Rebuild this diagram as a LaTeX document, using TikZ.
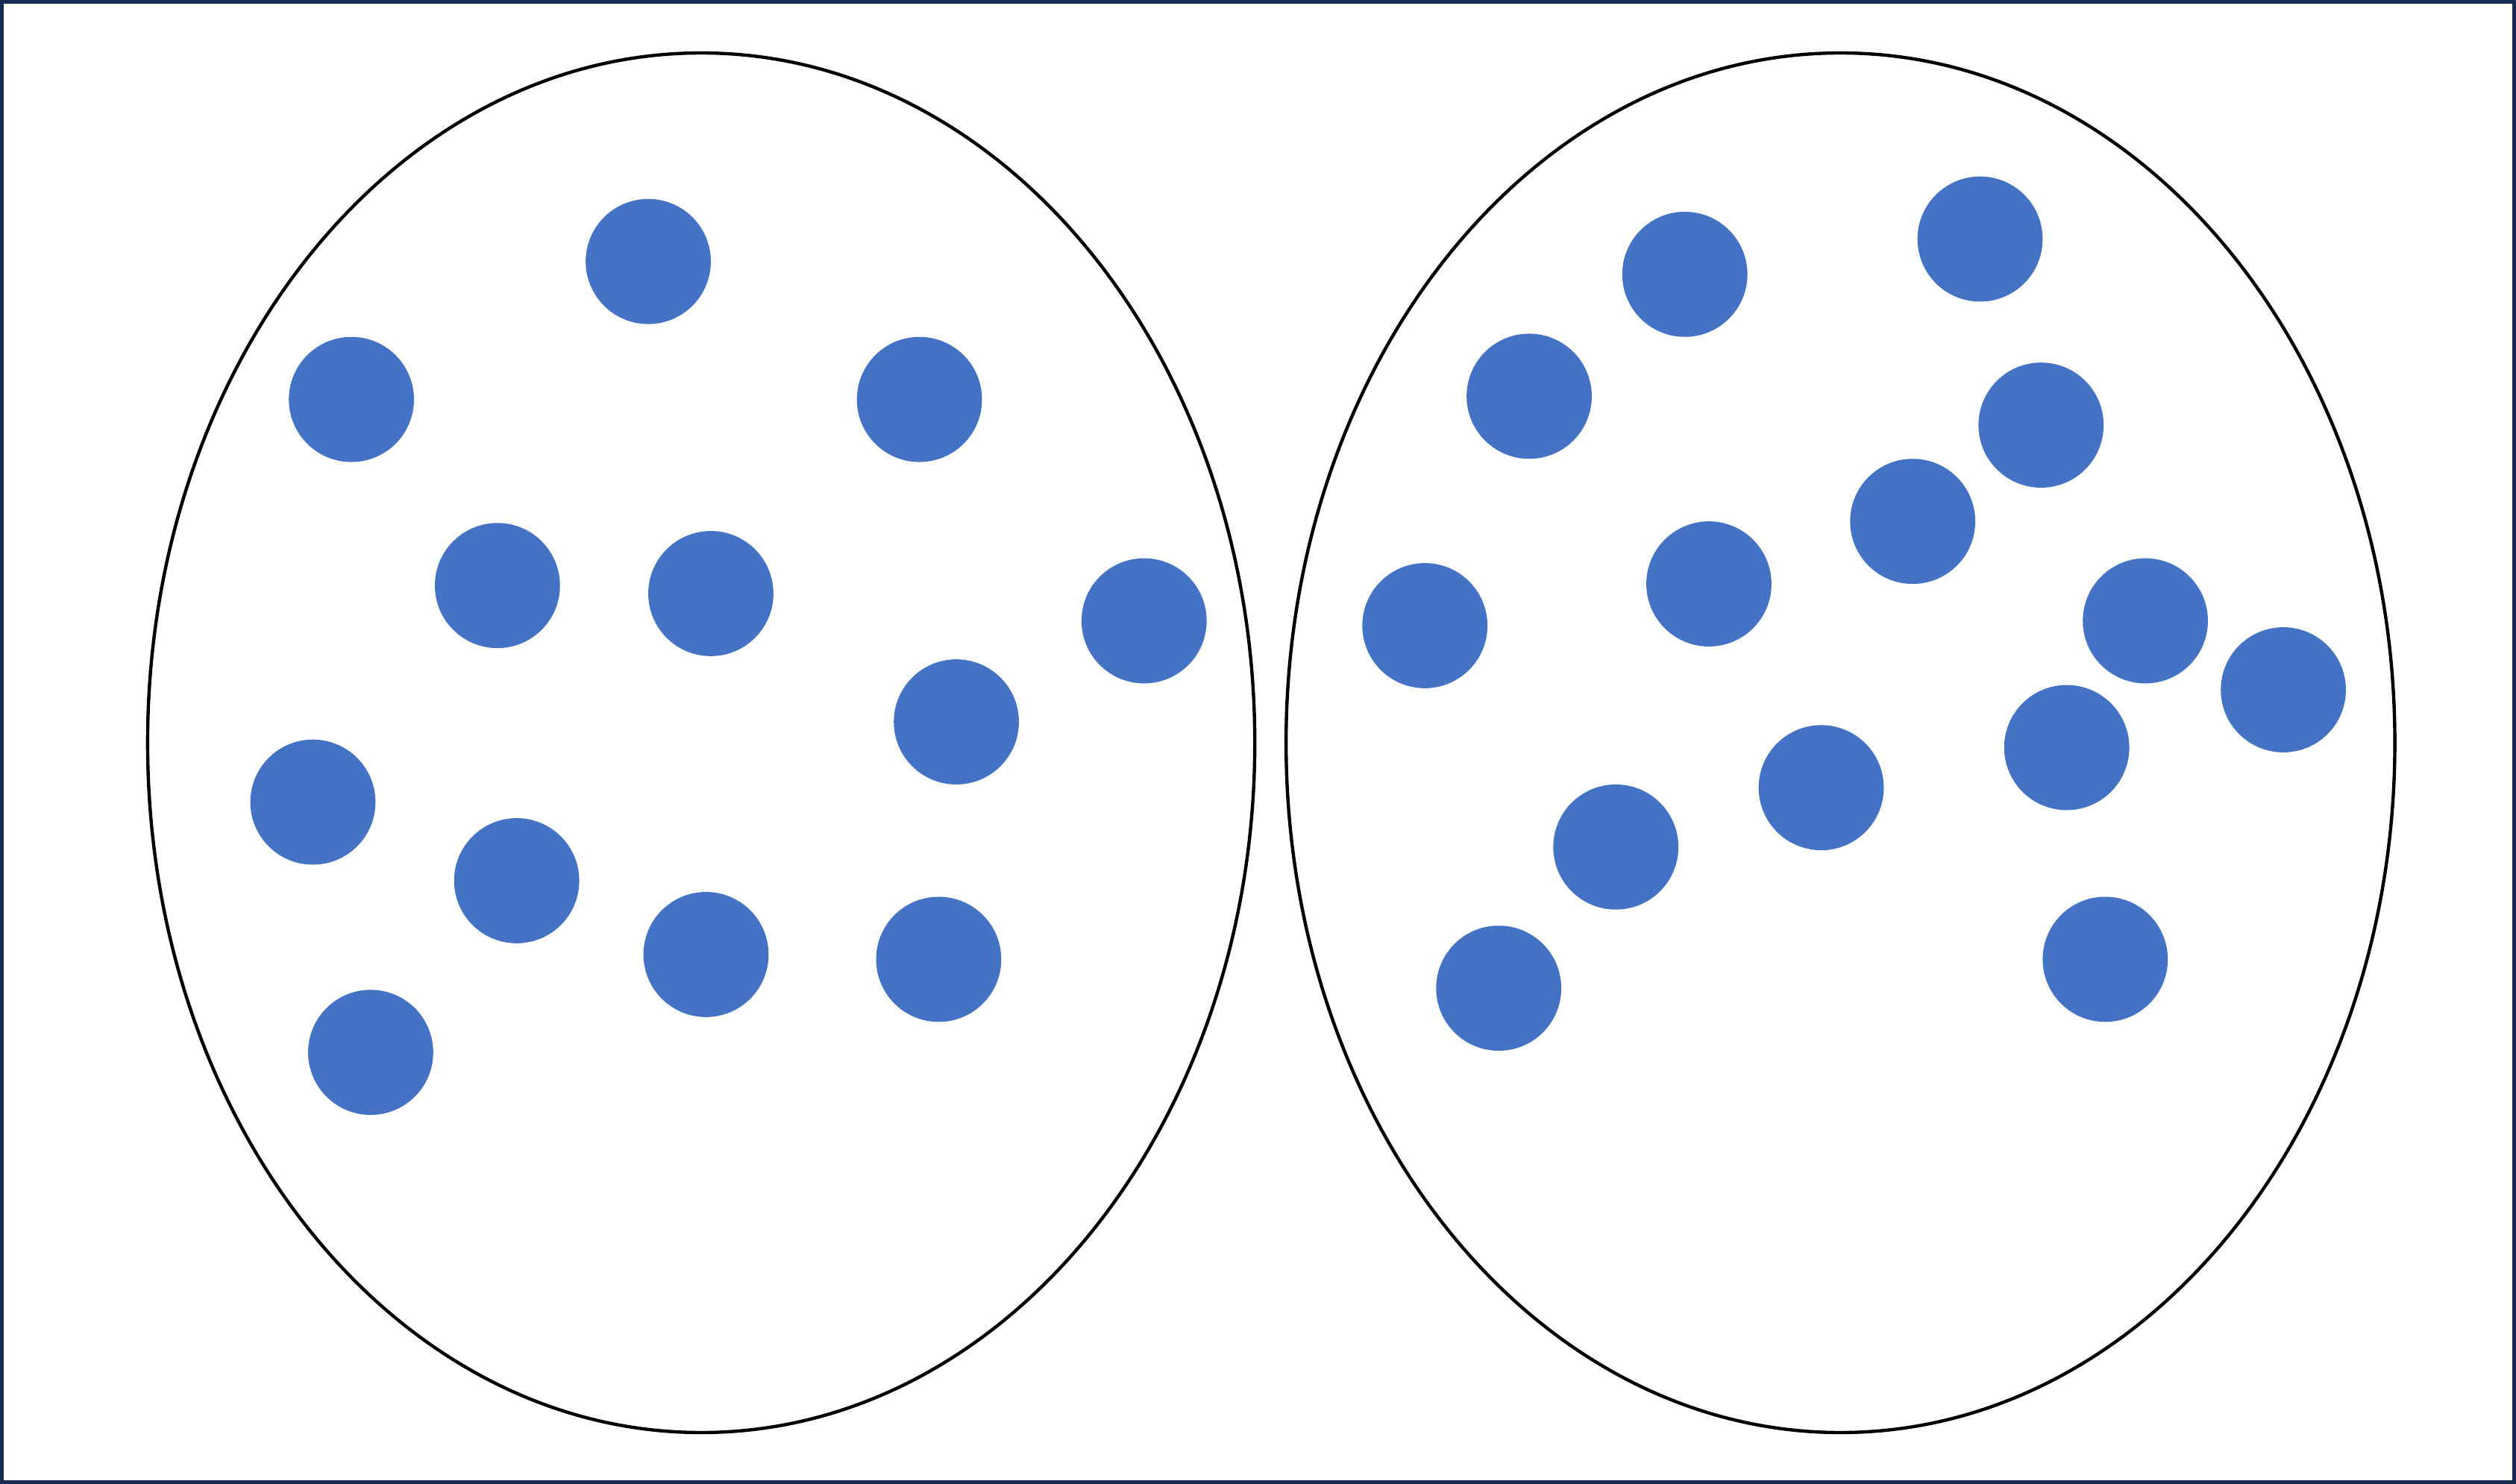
\documentclass[tikz,border=0pt]{standalone}
\definecolor{framec}{HTML}{172B52}
\definecolor{dotc}{HTML}{4472C4}
\begin{document}
\begin{tikzpicture}[x=0.021512cm,y=-0.021512cm,
  dot/.style={circle,fill=dotc,draw=none,minimum size=1.678cm,inner sep=0pt},
  setline/.style={draw=black,line width=1.25pt}]
\useasboundingbox (0,0) rectangle (1568,925);
\draw[framec,line width=1.42pt] (1.16,1.16) rectangle (1566.84,923.84);
\draw[setline] (437,463) ellipse [x radius=345, y radius=430];
\draw[setline] (1147,463) ellipse [x radius=345.5, y radius=430];
% left set
\node[dot] (l1) at (404,163) {};
\node[dot] (l2) at (219,249) {};
\node[dot] (l3) at (573,249) {};
\node[dot] (l4) at (310,365) {};
\node[dot] (l5) at (443,370) {};
\node[dot] (l6) at (713,387) {};
\node[dot] (l7) at (596,450) {};
\node[dot] (l8) at (195,500) {};
\node[dot] (l9) at (322,549) {};
\node[dot] (l10) at (440,595) {};
\node[dot] (l11) at (585,598) {};
\node[dot] (l12) at (231,656) {};
% right set
\node[dot] (r1) at (1050,171) {};
\node[dot] (r2) at (1234,149) {};
\node[dot] (r3) at (953,247) {};
\node[dot] (r4) at (1272,265) {};
\node[dot] (r5) at (1192,325) {};
\node[dot] (r6) at (1065,364) {};
\node[dot] (r7) at (888,390) {};
\node[dot] (r8) at (1337,387) {};
\node[dot] (r9) at (1423,430) {};
\node[dot] (r10) at (1288,466) {};
\node[dot] (r11) at (1135,491) {};
\node[dot] (r12) at (1007,528) {};
\node[dot] (r13) at (934,616) {};
\node[dot] (r14) at (1312,598) {};
\end{tikzpicture}
\end{document}
